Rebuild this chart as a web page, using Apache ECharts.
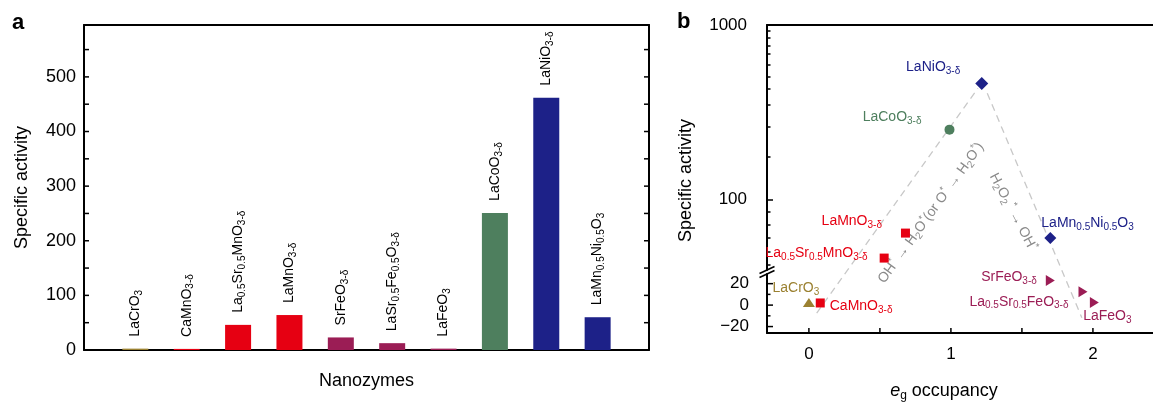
<!DOCTYPE html>
<html><head><meta charset="utf-8">
<script src="https://cdn.jsdelivr.net/npm/echarts@6/dist/echarts.min.js"></script>
<style>html,body{margin:0;padding:0;background:#fff}#c{width:1153px;height:403px}</style>
</head><body><div id="c"></div>
<script>
// ---------- data ----------
const compoundsA = ['LaCrO_{3}','CaMnO_{3-δ}','La_{0.5}Sr_{0.5}MnO_{3-δ}','LaMnO_{3-δ}','SrFeO_{3-δ}','LaSr_{0.5}Fe_{0.5}O_{3-δ}','LaFeO_{3}','LaCoO_{3-δ}','LaNiO_{3-δ}','LaMn_{0.5}Ni_{0.5}O_{3}'];
const compoundsB = ['LaCrO_{3}','CaMnO_{3-δ}','La_{0.5}Sr_{0.5}MnO_{3-δ}','LaMnO_{3-δ}','SrFeO_{3-δ}','La_{0.5}Sr_{0.5}FeO_{3-δ}','LaFeO_{3}','LaCoO_{3-δ}','LaNiO_{3-δ}','LaMn_{0.5}Ni_{0.5}O_{3}'];
const activity = [2.5, 2, 46, 64, 23, 12.5, 2.5, 251, 462, 60];
const egOccupancy = [0.0, 0.08, 0.53, 0.68, 1.70, 1.93, 2.01, 0.99, 1.217, 1.70];
const barYTicks = [50, 100, 150, 200, 250, 300, 350, 400, 450, 500, 550];
const barYLabels = [0, 100, 200, 300, 400, 500];
const logMajorTicks = [100, 1000];
const logMinorTicks = [42, 50, 60, 71, 85, 175, 260, 350, 430, 505, 590, 680, 765, 845, 925];
const linMajorTicks = [-20, 0, 20];
const linMinorTicks = [-10, 10];
const egMajorTicks = [0, 1, 2];
const egMinorTicks = [0.5, 1.5];
const breakValue = 30;
// guide lines: [eg, activity]
const guideLeft = [[0.055, -7.5], [1.19, 433]];
const guideRight = [[1.256, 406], [1.922, -11.8]];

// ---------- axis ranges & styles ----------
const barXRange = [0, 11], barYRange = [0, 595];
const egRange = [-0.295, 2.423], logRange = [39.3, 1000], linRange = [-26, 29];
const FONT = 'Liberation Sans, Arial, Helvetica, sans-serif';
const colors = ['#9b8131','#e60012','#e60012','#e60012','#9b1d55','#9b1d55','#9b1d55','#4e7f5e','#1d2188','#1d2188'];
const symbols = ['triangle','rect','rect','rect','triangle','triangle','triangle','circle','diamond','diamond'];
const symbolRot = [0,0,0,0,-90,-90,-90,0,0,0];
const symbolSizes = [[12,9],9,9,9,[11,9],[11,9],[11,9],10,13,12];
const labelLayout = [
  {position:'top', offset:[-13,4]},
  {position:'right', offset:[0,3]},
  {position:'left', offset:[-7,-5]},
  {position:'left', offset:[-14,-12]},
  {position:'left', offset:[-4,-3]},
  {position:'left', offset:[-5,10]},
  {position:'bottom', offset:[13,-6]},
  {position:'left', offset:[-18,-12]},
  {position:'left', offset:[-10,-16]},
  {position:'right', offset:[-20,-15]}
];

function toRich(s){
  const parts = s.split(/_\{|\}/);
  return parts.map((p,i)=> p==='' ? '' : (i%2 ? '{s|'+p+'}' : '{n|'+p+'}')).join('');
}
const richBase = {
  n:{fontSize:14, lineHeight:18, fontFamily:FONT},
  s:{fontSize:10, lineHeight:10, verticalAlign:'bottom', fontFamily:FONT}
};

const chart = echarts.init(document.getElementById('c'));

const barData = activity.map((v,i)=>({
  value:[i+1, v],
  itemStyle:{color:colors[i]},
  label:{formatter: toRich(compoundsA[i])}
}));

function pointItem(i){
  return {
    value:[egOccupancy[i], activity[i]],
    symbol: symbols[i],
    symbolRotate: symbolRot[i],
    symbolSize: symbolSizes[i],
    itemStyle:{color:colors[i], opacity:1},
    label:{
      show:true,
      position: labelLayout[i].position,
      offset: labelLayout[i].offset,
      distance:5,
      color: colors[i],
      formatter: toRich(compoundsB[i]),
      rich: richBase
    }
  };
}
const upperPts = [], lowerPts = [];
activity.forEach((v,i)=>{ (v > breakValue ? upperPts : lowerPts).push(pointItem(i)); });

// tick marks drawn through the axes' own scales
function tickSeries(xi, yi, pts, dx, dy){
  return {type:'custom', xAxisIndex:xi, yAxisIndex:yi, clip:false, silent:true, z:10, data:pts,
    renderItem:(params, api)=>{
      const p = api.coord([api.value(0), api.value(1)]);
      return {type:'line', shape:{x1:p[0], y1:p[1], x2:p[0]+dx, y2:p[1]+dy}, style:{stroke:'#000', lineWidth:1.5}};
    }};
}

const tickStyle = {color:'#000', width:1.5};
const axisLineStyle = {show:true, onZero:false, lineStyle:{color:'#000', width:2}};
const noLine = {show:false, onZero:false};

const option = {
  animation:false,
  textStyle:{fontFamily:FONT},
  grid:[
    {left:84, top:25, width:565, height:325},
    {left:767, top:25, width:396, height:245},
    {left:767, top:274, width:396, height:62}
  ],
  xAxis:[
    {gridIndex:0, type:'value', position:'bottom', min:barXRange[0], max:barXRange[1], axisLine:axisLineStyle, axisTick:{show:false}, axisLabel:{show:false}, splitLine:{show:false},
     name:'Nanozymes', nameLocation:'middle', nameGap:22, nameTextStyle:{fontSize:18, color:'#000', fontFamily:FONT}},
    {gridIndex:1, type:'value', position:'top', min:egRange[0], max:egRange[1], axisLine:axisLineStyle, axisTick:{show:false}, axisLabel:{show:false}, splitLine:{show:false}},
    {gridIndex:2, type:'value', position:'bottom', min:egRange[0], max:egRange[1], axisLine:axisLineStyle,
     axisTick:{show:false},
     axisLabel:{show:true, fontSize:17, color:'#000', margin:13, customValues: egMajorTicks},
     splitLine:{show:false},
     name:'{i|e}{is|g}{n| occupancy}', nameLocation:'middle', nameGap:47,
     nameTextStyle:{fontSize:18, color:'#000', padding:[0,32,0,0],
       rich:{i:{fontSize:18, fontStyle:'italic', lineHeight:22, fontFamily:FONT}, is:{fontSize:12, lineHeight:12, verticalAlign:'bottom', fontFamily:FONT}, n:{fontSize:18, lineHeight:22, fontFamily:FONT}}}},
    {gridIndex:0, type:'value', position:'top', min:barXRange[0], max:barXRange[1], axisLine:axisLineStyle, axisTick:{show:false}, axisLabel:{show:false}, splitLine:{show:false}}
  ],
  yAxis:[
    {gridIndex:0, type:'value', position:'left', min:barYRange[0], max:barYRange[1], axisLine:axisLineStyle,
     axisTick:{show:false},
     axisLabel:{show:true, fontSize:18, color:'#000', margin:8, customValues: barYLabels},
     splitLine:{show:false},
     name:'Specific activity', nameLocation:'middle', nameGap:53, nameTextStyle:{fontSize:18, color:'#000', fontFamily:FONT}},
    {gridIndex:0, type:'value', position:'right', min:barYRange[0], max:barYRange[1], axisLine:axisLineStyle,
     axisTick:{show:false}, axisLabel:{show:false}, splitLine:{show:false}},
    {gridIndex:1, type:'log', logBase:10, position:'left', min:logRange[0], max:logRange[1], axisLine:axisLineStyle,
     axisTick:{show:true, inside:true, length:6, lineStyle:tickStyle, customValues: logMajorTicks},
     axisLabel:{show:true, fontSize:17, color:'#000', margin:20, customValues: logMajorTicks, formatter:v=>String(Math.round(v))},
     minorTick:{show:false}, splitLine:{show:false},
     name:'Specific activity', nameLocation:'middle', nameGap:72, nameTextStyle:{fontSize:18, color:'#000', fontFamily:FONT, padding:[0,66,0,0]}},
    {gridIndex:1, type:'log', logBase:10, position:'left', min:logRange[0], max:logRange[1], axisLine:noLine,
     axisTick:{show:true, inside:true, length:3.5, lineStyle:tickStyle, customValues: logMinorTicks},
     axisLabel:{show:false}, minorTick:{show:false}, splitLine:{show:false}},
    {gridIndex:2, type:'value', position:'left', min:linRange[0], max:linRange[1], axisLine:axisLineStyle,
     axisTick:{show:false},
     axisLabel:{show:true, fontSize:17, color:'#000', margin:18, customValues: linMajorTicks, formatter:v=>String(v).replace('-','\u2212')},
     splitLine:{show:false}}
  ],
  series:[
    {type:'bar', xAxisIndex:0, yAxisIndex:0, barWidth:26, data:barData,
     label:{show:true, position:'top', rotate:90, align:'left', verticalAlign:'middle', distance:12, color:'#000', rich:richBase}},
    {type:'scatter', xAxisIndex:1, yAxisIndex:2, data:upperPts, z:5},
    {type:'scatter', xAxisIndex:2, yAxisIndex:4, data:lowerPts, z:5},
    tickSeries(0, 0, barYTicks.map(v=>[barXRange[0], v]), 5, 0),
    tickSeries(0, 0, barYTicks.map(v=>[barXRange[1], v]), -5, 0),
    tickSeries(2, 4, linMajorTicks.map(v=>[egRange[0], v]), 6, 0),
    tickSeries(2, 4, linMinorTicks.map(v=>[egRange[0], v]), 3.5, 0),
    tickSeries(2, 4, egMajorTicks.concat(egMinorTicks).map(v=>[v, linRange[0]]), 0, -5)
  ]
};
chart.setOption(option);

// overlay graphics (guide lines through converted data coordinates)
const toUp = p => chart.convertToPixel({xAxisIndex:1, yAxisIndex:2}, p);
const toLow = p => chart.convertToPixel({xAxisIndex:2, yAxisIndex:4}, p);
const pt = p => (p[1] > breakValue ? toUp(p) : toLow(p));
function guide(id, seg){
  const a = pt(seg[0]), b = pt(seg[1]);
  return {type:'line', id:id, z:1, silent:true,
    shape:{x1:a[0], y1:a[1], x2:b[0], y2:b[1]},
    style:{stroke:'#c8c8c8', lineWidth:1.3, lineDash:[7,5]}};
}
const axisX = chart.convertToPixel({xAxisIndex:2}, egRange[0]);
const annRich = {
  n:{fontSize:14, lineHeight:18, fontFamily:FONT, fill:'#8a8a8a'},
  s:{fontSize:10, lineHeight:10, verticalAlign:'bottom', fontFamily:FONT, fill:'#8a8a8a'},
  p:{fontSize:10, lineHeight:10, verticalAlign:'top', fontFamily:FONT, fill:'#8a8a8a'}
};
chart.setOption({graphic:[
  guide('gl', guideLeft),
  guide('gr', guideRight),
  {type:'text', id:'ann1', z:1, x:931, y:213, rotation:54*Math.PI/180,
   style:{text:'{n|OH}{p|*}{n| \u2192 H}{s|2}{n|O}{p|*}{n|(or O}{p|*}{n| \u2192 H}{s|2}{n|O}{p|*}{n|)}', rich:annRich, fill:'#8a8a8a', align:'center', verticalAlign:'middle'}},
  {type:'text', id:'ann2', z:1, x:1013, y:212, rotation:-62*Math.PI/180,
   style:{text:'{n|H}{s|2}{n|O}{s|2}{p| *}{n| \u2192 OH}{p|*}', rich:annRich, fill:'#8a8a8a', align:'center', verticalAlign:'middle'}},
  {type:'line', id:'br1', z:10, shape:{x1:axisX-7.5, y1:273.5, x2:axisX+7.5, y2:266.5}, style:{stroke:'#000', lineWidth:1.6}},
  {type:'line', id:'br2', z:10, shape:{x1:axisX-7.5, y1:277.5, x2:axisX+7.5, y2:270.5}, style:{stroke:'#000', lineWidth:1.6}},
  {type:'text', id:'la', x:12, y:12, style:{text:'a', fontSize:22, fontWeight:'bold', fontFamily:FONT, fill:'#000'}},
  {type:'text', id:'lb', x:677, y:11, style:{text:'b', fontSize:22, fontWeight:'bold', fontFamily:FONT, fill:'#000'}}
]});
</script>
</body></html>
